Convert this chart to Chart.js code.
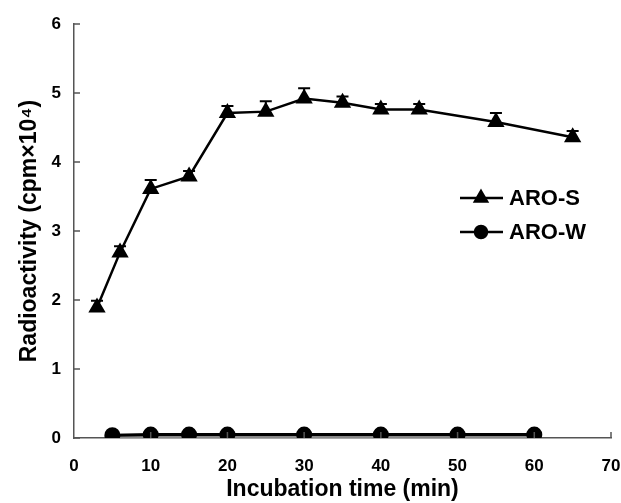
<!DOCTYPE html>
<html>
<head>
<meta charset="utf-8">
<script src="https://cdn.jsdelivr.net/npm/chart.js@4"></script>
<style>
  html, body { margin: 0; padding: 0; background: #fff; }
  #wrap { width: 621px; height: 503px; position: relative; }
</style>
</head>
<body>
<div id="wrap"><canvas id="chart1"></canvas></div>
<script>
var timeS = [3, 6, 10, 15, 20, 25, 30, 35, 40, 45, 55, 65];
var valS  = [1.89, 2.69, 3.61, 3.79, 4.71, 4.73, 4.92, 4.86, 4.76, 4.76, 4.58, 4.36];
var errS  = [0.10, 0.09, 0.13, 0.08, 0.10, 0.15, 0.15, 0.09, 0.08, 0.08, 0.13, 0.09];
var timeW = [5, 10, 15, 20, 30, 40, 50, 60];
var valW  = [0.04, 0.05, 0.05, 0.05, 0.05, 0.05, 0.05, 0.05];
var xTicks = [0, 10, 20, 30, 40, 50, 60, 70];
var yTicks = [0, 1, 2, 3, 4, 5, 6];

var font = 'Liberation Sans, Arial, sans-serif';

function toPoints(xs, ys){
  var out = [];
  for (var i = 0; i < xs.length; i++){
    out.push({x: xs[i], y: ys[i]});
  }
  return out;
}

// up-only error bars with caps
var errorBars = {
  id: 'errorBars',
  beforeDatasetsDraw: function(chart){
    var ctx = chart.ctx;
    var xs = chart.scales.x, ys = chart.scales.y;
    ctx.save();
    ctx.strokeStyle = '#000';
    ctx.lineWidth = 2;
    for (var i = 0; i < timeS.length; i++){
      var px = xs.getPixelForValue(timeS[i]);
      var py = ys.getPixelForValue(valS[i]);
      var pt = ys.getPixelForValue(valS[i] + errS[i]);
      ctx.beginPath();
      ctx.moveTo(px, py);
      ctx.lineTo(px, pt);
      ctx.moveTo(px - 6, pt);
      ctx.lineTo(px + 6, pt);
      ctx.stroke();
    }
    ctx.restore();
  }
};

// inside tick marks + legend inside the plot
var extras = {
  id: 'extras',
  afterDraw: function(chart){
    var ctx = chart.ctx;
    var xs = chart.scales.x, ys = chart.scales.y;
    var a = chart.chartArea;
    ctx.save();
    ctx.strokeStyle = '#555';
    ctx.lineWidth = 1.5;
    ctx.beginPath();
    for (var i = 0; i < yTicks.length; i++){
      var py = ys.getPixelForValue(yTicks[i]);
      ctx.moveTo(a.left, py);
      ctx.lineTo(a.left + 6, py);
    }
    for (var j = 1; j < xTicks.length; j++){
      var px = xs.getPixelForValue(xTicks[j]);
      ctx.moveTo(px, a.bottom);
      ctx.lineTo(px, a.bottom - 6);
    }
    ctx.stroke();

    // legend
    var items = [
      {label: 'ARO-S', style: 'triangle', y: 198},
      {label: 'ARO-W', style: 'circle', y: 232}
    ];
    ctx.font = 'bold 22px ' + font;
    ctx.textBaseline = 'middle';
    ctx.fillStyle = '#000';
    for (var k = 0; k < items.length; k++){
      var it = items[k];
      ctx.strokeStyle = '#000';
      ctx.lineWidth = 2.5;
      ctx.beginPath();
      ctx.moveTo(460, it.y);
      ctx.lineTo(503, it.y);
      ctx.stroke();
      Chart.helpers.drawPoint(ctx, {pointStyle: it.style, radius: it.style == 'triangle' ? 7 : 6, borderWidth: 1}, 481, it.y);
      ctx.fill();
      ctx.fillText(it.label, 509, it.y + 1);
    }
    ctx.restore();
  }
};

const ctx1 = document.getElementById('chart1');
new Chart(ctx1, {
  type: 'scatter',
  data: {
    datasets: [
      {
        label: 'ARO-W',
        data: toPoints(timeW, valW),
        showLine: true,
        borderColor: '#000',
        backgroundColor: '#000',
        borderWidth: 3,
        pointStyle: 'circle',
        pointRadius: 6.5,
        fill: {target: 'origin', above: '#888'}
      },
      {
        label: 'ARO-S',
        data: toPoints(timeS, valS),
        showLine: true,
        borderColor: '#000',
        backgroundColor: '#000',
        borderWidth: 2.5,
        pointStyle: 'triangle',
        pointRadius: 7.5
      }
    ]
  },
  options: {
    responsive: true,
    maintainAspectRatio: false,
    animation: false,
    layout: { padding: {top: 24, right: 10, left: 14, bottom: 0} },
    plugins: {
      legend: { display: false },
      tooltip: { enabled: false },
      filler: { propagate: false }
    },
    scales: {
      x: {
        type: 'linear',
        min: 0, max: 70,
        afterBuildTicks: function(s){ s.ticks = xTicks.map(function(v){ return {value: v}; }); },
        afterFit: function(s){ s.height = 65; s.paddingRight = 0; s.paddingLeft = 0; },
        grid: { display: false },
        border: { color: '#555', width: 1.5 },
        ticks: { color: '#000', padding: 10, font: {family: font, size: 17, weight: 'bold'}, maxRotation: 0 },
        title: { display: true, text: 'Incubation time (min)', color: '#000', padding: {top: 0, bottom: 0}, font: {family: font, size: 23, weight: 'bold'} }
      },
      y: {
        min: 0, max: 6,
        afterBuildTicks: function(s){ s.ticks = yTicks.map(function(v){ return {value: v}; }); },
        afterFit: function(s){ s.width = 60; },
        grid: { display: false },
        border: { color: '#555', width: 1.5 },
        ticks: { color: '#000', padding: 5, font: {family: font, size: 17, weight: 'bold'} },
        title: { display: true, text: 'Radioactivity (cpm×10⁴)', color: '#000', padding: {top: 2, bottom: 0}, font: {family: font, size: 23, weight: 'bold'} }
      }
    }
  },
  plugins: [errorBars, extras]
});
</script>
</body>
</html>
